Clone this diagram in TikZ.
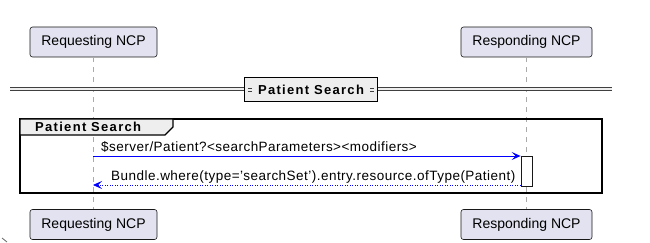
\documentclass[tikz,border=0pt]{standalone}
\usepackage{fontspec}
\setmainfont{Liberation Sans}
\usetikzlibrary{arrows.meta}
\definecolor{partfill}{HTML}{E2E2F0}
\definecolor{partline}{HTML}{181818}
\definecolor{lifegray}{HTML}{AAAAAA}
\definecolor{sepfill}{HTML}{EEEEEE}
\definecolor{msgblue}{HTML}{0000FF}

\begin{document}
\begin{tikzpicture}[x=1pt,y=-1pt,
  participant/.style={draw=partline, fill=partfill, rounded corners=2.5pt,
    line width=0.6pt, minimum height=30pt, inner sep=0pt,
    font=\fontsize{14}{16}\selectfont},
  lifeline/.style={draw=lifegray, line width=1pt, dash pattern=on 5pt off 5pt},
  seplabel/.style={draw=black, fill=sepfill, line width=1.8pt,
    minimum width=133pt, minimum height=24pt, inner sep=0pt,
    font=\fontsize{13}{15}\selectfont\bfseries\addfontfeature{LetterSpace=10}},
  grouptitle/.style={anchor=west, inner sep=0pt,
    font=\fontsize{13}{15}\selectfont\bfseries\addfontfeature{LetterSpace=10}},
  activation/.style={draw=partline, fill=white, line width=0.8pt,
    minimum width=11pt, minimum height=30pt, inner sep=0pt},
  msgtext/.style={anchor=base west, inner sep=0pt,
    font=\fontsize{13.5}{15}\selectfont\addfontfeature{LetterSpace=3.5}},
  reqarrow/.style={draw=msgblue, line width=0.8pt,
    -{Stealth[length=9pt,width=8pt,inset=4pt]}},
  resarrow/.style={draw=msgblue, line width=0.8pt, dash pattern=on 1pt off 1.5pt,
    -{Stealth[length=9pt,width=8pt,inset=4pt,fill=msgblue]}},
]
\useasboundingbox (0,0) rectangle (650,243);

% participants, top and bottom
\node[participant, minimum width=127pt] (reqTop) at (93.5,42) {Requesting NCP};
\node[participant, minimum width=131pt] (resTop) at (526.5,42) {Responding NCP};
\node[participant, minimum width=127pt] (reqBot) at (93.5,224.5) {Requesting NCP};
\node[participant, minimum width=131pt] (resBot) at (526.5,224.5) {Responding NCP};

% lifelines
\draw[lifeline] (reqTop.south) -- (reqBot.north);
\draw[lifeline] (resTop.south) -- (resBot.north);

% separator
\coordinate (sepL) at (10,88);
\coordinate (sepR) at (612,91);
\filldraw[fill=sepfill, draw=none] (sepL) rectangle (sepR);
\draw[line width=1pt, black!75] (sepL) -- (sepL -| sepR);
\draw[line width=1pt, black!75] (sepL |- sepR) -- (sepR);
\node[seplabel] (sep) at (311,89.5) {Patient Search};
\foreach \x in {248,370}{
  \fill[sepfill] (\x,88) rectangle (\x+4,91);
  \draw[line width=0.7pt, black!75] (\x,88) -- (\x+4,88) (\x,91) -- (\x+4,91);
}

% group frame
\draw[line width=1.5pt] (20,119) rectangle (602,193);
\draw[line width=1.2pt, fill=sepfill] (20,119) -- (173,119) -- (173,127) -- (165,135) -- (20,135) -- cycle;
\node[grouptitle] (grp) at (35,127) {Patient Search};

% activation on the responder
\node[activation] (act) at (526.5,171) {};

% messages
\coordinate (m1) at (93,156);
\coordinate (m2) at (93,185);
\draw[reqarrow] (m1) -- (m1 -| act.west);
\draw[resarrow] (m2 -| act.west) -- (m2);
\node[msgtext] (t1) at (101,151) {\$server/Patient?<searchParameters><modifiers>};
\node[msgtext] (t2) at (111,180) {Bundle.where(type='searchSet').entry.resource.ofType(Patient)};

% stray mark in the lower left corner
\draw[line width=0.8pt, black!60] (2,238) -- (7,242);
\end{tikzpicture}
\end{document}
